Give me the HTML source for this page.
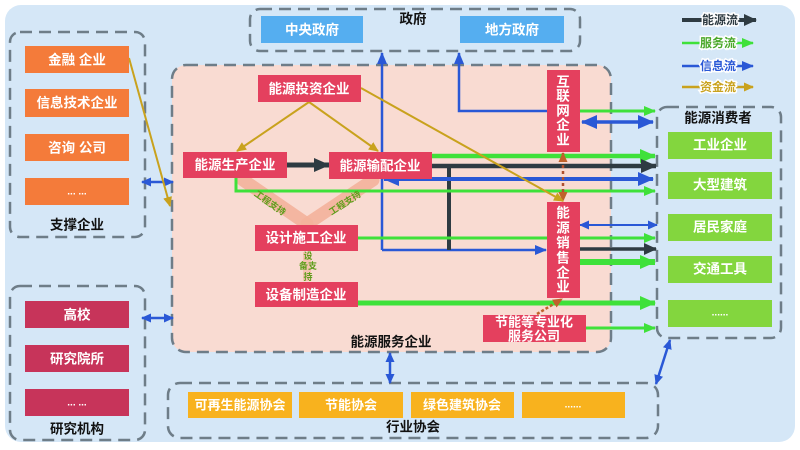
<!DOCTYPE html>
<html><head><meta charset="utf-8">
<style>
html,body{margin:0;padding:0;background:#fff;}
svg{display:block;}
text{font-family:"Liberation Sans","Noto Sans CJK SC",sans-serif;}
.bx{fill:#fff;font-size:13.5px;font-weight:bold;text-anchor:middle;dominant-baseline:central;}
.lb{fill:#111;font-size:13.5px;font-weight:bold;text-anchor:middle;dominant-baseline:central;}
.dash{fill:none;stroke:#6e7d88;stroke-width:2.5;stroke-dasharray:12 7;}
.sm{font-size:9px;fill:#5f9e1c;font-weight:bold;text-anchor:middle;dominant-baseline:central;}
.lg{font-size:12px;font-weight:bold;text-anchor:middle;dominant-baseline:central;paint-order:stroke;stroke:#fff;stroke-width:3px;}
</style></head>
<body>
<svg width="800" height="450" viewBox="0 0 800 450" xmlns="http://www.w3.org/2000/svg">
<defs>
<marker id="gB" markerWidth="16" markerHeight="14" refX="15" refY="7" markerUnits="userSpaceOnUse" orient="auto-start-reverse"><path d="M0,0 L16,7 L0,14 z" fill="#3fe13a"/></marker>
<marker id="gM" markerWidth="12" markerHeight="10" refX="11" refY="5" markerUnits="userSpaceOnUse" orient="auto-start-reverse"><path d="M0,0 L12,5 L0,10 z" fill="#3fe13a"/></marker>
<marker id="kB" markerWidth="16" markerHeight="14" refX="15" refY="7" markerUnits="userSpaceOnUse" orient="auto-start-reverse"><path d="M0,0 L16,7 L0,14 z" fill="#2e3b42"/></marker>
<marker id="kM" markerWidth="13" markerHeight="12" refX="12" refY="6" markerUnits="userSpaceOnUse" orient="auto-start-reverse"><path d="M0,0 L13,6 L0,12 z" fill="#2e3b42"/></marker>
<marker id="bB" markerWidth="16" markerHeight="14" refX="15" refY="7" markerUnits="userSpaceOnUse" orient="auto-start-reverse"><path d="M0,0 L16,7 L0,14 z" fill="#2a58d6"/></marker>
<marker id="bM" markerWidth="12" markerHeight="10" refX="11" refY="5" markerUnits="userSpaceOnUse" orient="auto-start-reverse"><path d="M0,0 L12,5 L0,10 z" fill="#2a58d6"/></marker>
<marker id="bS" markerWidth="10" markerHeight="9" refX="9" refY="4.5" markerUnits="userSpaceOnUse" orient="auto-start-reverse"><path d="M0,0 L10,4.5 L0,9 z" fill="#2a58d6"/></marker>
<marker id="yS" markerWidth="10" markerHeight="9" refX="9" refY="4.5" markerUnits="userSpaceOnUse" orient="auto-start-reverse"><path d="M0,0 L10,4.5 L0,9 z" fill="#c9a21d"/></marker>
<marker id="oS" markerWidth="10" markerHeight="9" refX="9" refY="4.5" markerUnits="userSpaceOnUse" orient="auto-start-reverse"><path d="M0,0 L10,4.5 L0,9 z" fill="#c0622a"/></marker>
</defs>

<rect width="800" height="450" fill="#fff"/>
<rect x="5" y="5" width="790" height="437" rx="16" fill="#d5e7f7"/>

<!-- dashed groups -->
<rect class="dash" x="10" y="32" width="135" height="205" rx="10"/>
<rect class="dash" x="10" y="286" width="135" height="154" rx="10"/>
<rect class="dash" x="250" y="9" width="330" height="42" rx="10"/>
<rect x="172" y="65" width="439" height="287" rx="14" fill="#f9dbd2" stroke="#6e7d88" stroke-width="2.5" stroke-dasharray="12 7"/>
<rect class="dash" x="657" y="107" width="124" height="231" rx="10"/>
<rect class="dash" x="168" y="383" width="490" height="55" rx="12"/>

<!-- salmon support bands -->
<line x1="243" y1="180" x2="307" y2="224" stroke="#f4b39c" stroke-width="13" stroke-linecap="round" opacity="0.9"/>
<line x1="373" y1="180" x2="307" y2="224" stroke="#f4b39c" stroke-width="13" stroke-linecap="round" opacity="0.9"/>
<line x1="307" y1="252" x2="307" y2="281" stroke="#f4b39c" stroke-width="8" opacity="0.6"/>

<!-- flows -->
<line x1="142" y1="182" x2="173" y2="182" stroke="#2a58d6" stroke-width="2.5" marker-start="url(#bS)" marker-end="url(#bS)"/>
<line x1="142" y1="318" x2="173" y2="318" stroke="#2a58d6" stroke-width="2.5" marker-start="url(#bS)" marker-end="url(#bS)"/>

<line x1="287" y1="165" x2="329" y2="165" stroke="#2e3b42" stroke-width="5" marker-end="url(#kB)"/>

<path d="M382,250 L382,53" fill="none" stroke="#2a58d6" stroke-width="2.5" marker-end="url(#bM)"/>
<path d="M382,250 L546,250" fill="none" stroke="#2a58d6" stroke-width="2.5" marker-end="url(#bM)"/>
<line x1="449" y1="166" x2="449" y2="250" stroke="#2e3b42" stroke-width="4"/>

<line x1="432" y1="156" x2="655" y2="156" stroke="#3fe13a" stroke-width="4.5" marker-end="url(#gB)"/>
<line x1="432" y1="166" x2="656" y2="166" stroke="#2e3b42" stroke-width="4.5" marker-end="url(#kB)"/>
<line x1="384" y1="179" x2="653" y2="179" stroke="#2a58d6" stroke-width="4" marker-start="url(#bB)" marker-end="url(#bB)"/>
<path d="M236,178 L236,191 L655,191" fill="none" stroke="#3fe13a" stroke-width="3" marker-end="url(#gM)"/>
<line x1="358" y1="238" x2="655" y2="238" stroke="#3fe13a" stroke-width="3" marker-end="url(#gM)"/>
<line x1="358" y1="303" x2="655" y2="303" stroke="#3fe13a" stroke-width="5" marker-end="url(#gB)"/>
<line x1="586" y1="328" x2="655" y2="328" stroke="#3fe13a" stroke-width="3" marker-end="url(#gM)"/>
<line x1="580" y1="111" x2="655" y2="111" stroke="#3fe13a" stroke-width="3" marker-end="url(#gM)"/>
<line x1="582" y1="122" x2="653" y2="122" stroke="#2a58d6" stroke-width="3.5" marker-start="url(#bB)" marker-end="url(#bB)"/>
<path d="M547,111 L459,111 L459,53" fill="none" stroke="#2a58d6" stroke-width="2.5" marker-end="url(#bM)"/>
<line x1="580" y1="225" x2="657" y2="225" stroke="#2a58d6" stroke-width="2" marker-start="url(#bS)" marker-end="url(#bS)"/>
<line x1="580" y1="249" x2="656" y2="249" stroke="#2e3b42" stroke-width="3.5" marker-end="url(#kM)"/>
<line x1="580" y1="262" x2="655" y2="262" stroke="#3fe13a" stroke-width="6" marker-end="url(#gB)"/>

<line x1="563" y1="153" x2="563" y2="201" stroke="#b0502e" stroke-width="2.5" stroke-dasharray="3 3" marker-start="url(#oS)" marker-end="url(#oS)"/>
<line x1="537" y1="314" x2="562" y2="299" stroke="#c0622a" stroke-width="2.5" stroke-dasharray="3 2" marker-end="url(#oS)"/>

<line x1="390" y1="353" x2="390" y2="383" stroke="#2a58d6" stroke-width="2.5" marker-start="url(#bS)" marker-end="url(#bS)"/>
<line x1="670" y1="340" x2="656" y2="384" stroke="#2a58d6" stroke-width="2.5" marker-start="url(#bS)" marker-end="url(#bS)"/>

<!-- gold money flows -->
<line x1="129" y1="58" x2="170" y2="206" stroke="#c9a21d" stroke-width="2" marker-end="url(#yS)"/>
<line x1="309" y1="102" x2="237" y2="151" stroke="#c9a21d" stroke-width="2" marker-end="url(#yS)"/>
<line x1="309" y1="102" x2="378" y2="151" stroke="#c9a21d" stroke-width="2" marker-end="url(#yS)"/>
<line x1="361" y1="88" x2="563" y2="201" stroke="#c9a21d" stroke-width="2" marker-end="url(#yS)"/>

<!-- support labels -->
<text class="sm" transform="translate(270,203) rotate(35)">工程支持</text>
<text class="sm" transform="translate(345,203) rotate(-33)">工程支持</text>
<text class="sm" x="308" y="256">设</text>
<text class="sm" x="308" y="266">备支</text>
<text class="sm" x="308" y="277">持</text>

<!-- orange support boxes -->
<g fill="#f47b3a">
<rect x="25" y="46" width="104" height="27"/>
<rect x="25" y="89" width="104" height="28"/>
<rect x="25" y="134" width="104" height="27"/>
<rect x="25" y="178" width="104" height="27"/>
</g>
<text class="bx" x="77" y="60">金融 企业</text>
<text class="bx" x="77" y="103">信息技术企业</text>
<text class="bx" x="77" y="148">咨询 公司</text>
<text class="bx" x="77" y="192" style="font-size:10px">... ...</text>
<text class="lb" x="77" y="225">支撑企业</text>

<!-- research -->
<g fill="#c7345a">
<rect x="25" y="301" width="104" height="27"/>
<rect x="25" y="345" width="104" height="27"/>
<rect x="25" y="389" width="104" height="27"/>
</g>
<text class="bx" x="77" y="315">高校</text>
<text class="bx" x="77" y="359">研究院所</text>
<text class="bx" x="77" y="403" style="font-size:10px">... ...</text>
<text class="lb" x="77" y="429">研究机构</text>

<!-- government -->
<rect x="261" y="16" width="102" height="27" fill="#55aef0"/>
<rect x="460" y="16" width="104" height="27" fill="#55aef0"/>
<text class="bx" x="312" y="30">中央政府</text>
<text class="bx" x="512" y="30">地方政府</text>
<text class="lb" x="413" y="19">政府</text>

<!-- energy service enterprises -->
<g fill="#e4405e">
<rect x="258" y="75" width="103" height="27"/>
<rect x="183" y="152" width="104" height="26"/>
<rect x="329" y="152" width="103" height="27"/>
<rect x="255" y="225" width="103" height="26"/>
<rect x="255" y="282" width="103" height="25"/>
<rect x="547" y="70" width="33" height="82"/>
<rect x="547" y="202" width="33" height="96"/>
<rect x="483" y="315" width="103" height="27"/>
</g>
<text class="bx" x="309" y="89">能源投资企业</text>
<text class="bx" x="235" y="165">能源生产企业</text>
<text class="bx" x="380" y="166">能源输配企业</text>
<text class="bx" x="306" y="238">设计施工企业</text>
<text class="bx" x="306" y="295">设备制造企业</text>
<g class="bx">
<text class="bx" x="563" y="82">互</text>
<text class="bx" x="563" y="96">联</text>
<text class="bx" x="563" y="111">网</text>
<text class="bx" x="563" y="125">企</text>
<text class="bx" x="563" y="140">业</text>
<text class="bx" x="563" y="213">能</text>
<text class="bx" x="563" y="228">源</text>
<text class="bx" x="563" y="243">销</text>
<text class="bx" x="563" y="258">售</text>
<text class="bx" x="563" y="273">企</text>
<text class="bx" x="563" y="287">业</text>
</g>
<text class="bx" x="534" y="322" style="font-size:13px">节能等专业化</text>
<text class="bx" x="534" y="336" style="font-size:13px">服务公司</text>
<text class="lb" x="391" y="342">能源服务企业</text>

<!-- consumers -->
<g fill="#83d63e">
<rect x="668" y="132" width="104" height="27"/>
<rect x="668" y="172" width="104" height="27"/>
<rect x="668" y="214" width="104" height="27"/>
<rect x="668" y="256" width="104" height="27"/>
<rect x="668" y="300" width="104" height="27"/>
</g>
<text class="lb" x="718" y="118">能源消费者</text>
<text class="bx" x="720" y="145">工业企业</text>
<text class="bx" x="720" y="185">大型建筑</text>
<text class="bx" x="720" y="227">居民家庭</text>
<text class="bx" x="720" y="269">交通工具</text>
<text class="bx" x="720" y="313" style="font-size:10px">......</text>

<!-- associations -->
<g fill="#f8b21e">
<rect x="188" y="392" width="104" height="26"/>
<rect x="299" y="392" width="104" height="26"/>
<rect x="411" y="392" width="103" height="26"/>
<rect x="522" y="392" width="103" height="26"/>
</g>
<text class="bx" x="240" y="405" style="font-size:13px">可再生能源协会</text>
<text class="bx" x="351" y="405" style="font-size:13px">节能协会</text>
<text class="bx" x="462" y="405" style="font-size:13px">绿色建筑协会</text>
<text class="bx" x="573" y="405" style="font-size:10px">......</text>
<text class="lb" x="413" y="427">行业协会</text>

<!-- legend -->
<line x1="682" y1="20" x2="756" y2="20" stroke="#2e3b42" stroke-width="4" marker-end="url(#kM)"/>
<text class="lg" x="720" y="20" fill="#2e3b42">能源流</text>
<line x1="682" y1="43" x2="753" y2="43" stroke="#3fe13a" stroke-width="2.5" marker-end="url(#bS)" style="marker-end:url(#gM)"/>
<text class="lg" x="718" y="43" fill="#4aa82a">服务流</text>
<line x1="682" y1="66" x2="753" y2="66" stroke="#2a58d6" stroke-width="2.5" marker-end="url(#bM)"/>
<text class="lg" x="718" y="66" fill="#2a58d6">信息流</text>
<line x1="682" y1="87" x2="753" y2="87" stroke="#c9a21d" stroke-width="2.5" marker-end="url(#yS)"/>
<text class="lg" x="718" y="87" fill="#c9a21d">资金流</text>
</svg>
</body></html>
